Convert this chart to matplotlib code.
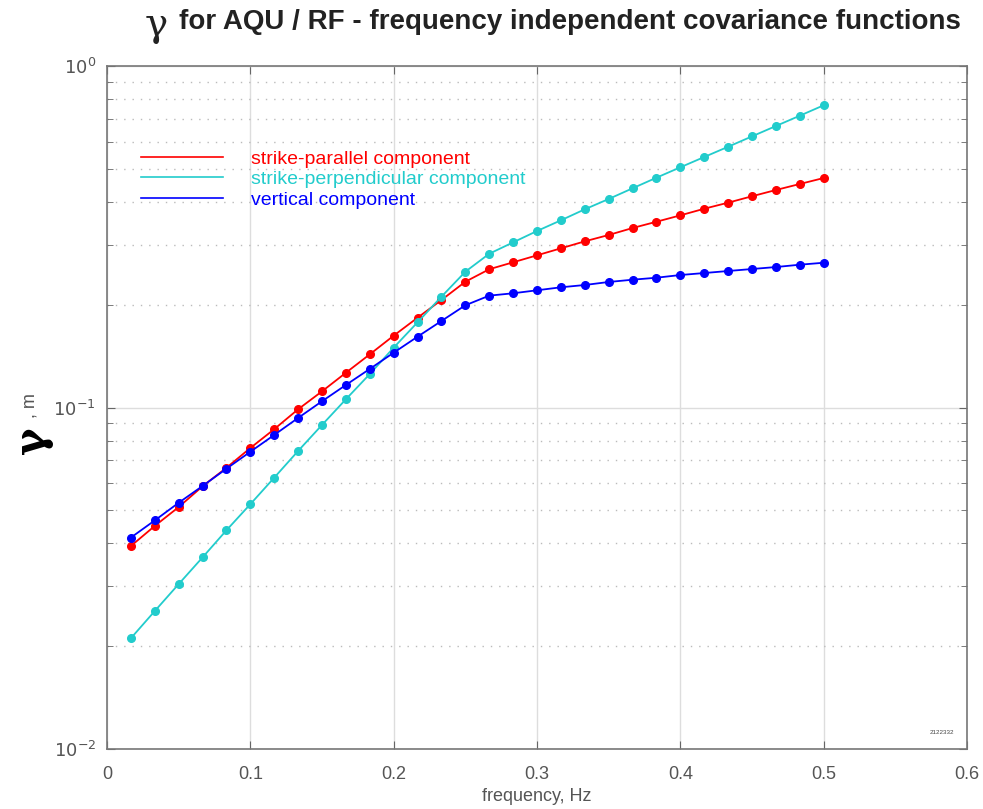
import matplotlib
matplotlib.use("Agg")
import matplotlib.pyplot as plt
import numpy as np
from matplotlib.lines import Line2D
from matplotlib.ticker import LogLocator, NullFormatter, FixedLocator

plt.rcParams['font.family'] = ['Liberation Sans', 'DejaVu Sans']
plt.rcParams['axes.unicode_minus'] = False

freq = [k / 60 for k in range(1, 31)]

strike_parallel = [0.0393, 0.0450, 0.0511, 0.0588, 0.0666, 0.0761, 0.0864, 0.0988, 0.1115, 0.1264,
                   0.1431, 0.1623, 0.1832, 0.2064, 0.2335, 0.2540, 0.2662, 0.2790, 0.2925, 0.3066,
                   0.3200, 0.3354, 0.3499, 0.3653, 0.3820, 0.3979, 0.4155, 0.4334, 0.4513, 0.4699]
strike_perp = [0.0211, 0.02535, 0.0304, 0.0364, 0.0437, 0.0521, 0.0623, 0.0746, 0.0889, 0.1057,
               0.1253, 0.1497, 0.1776, 0.2111, 0.2498, 0.2820, 0.3045, 0.3287, 0.3533, 0.3805,
               0.4079, 0.4384, 0.4709, 0.5051, 0.5414, 0.5801, 0.6222, 0.6672, 0.7152, 0.7673]
vertical = [0.0416, 0.0467, 0.0526, 0.0589, 0.0662, 0.0742, 0.0831, 0.0932, 0.1043, 0.1164,
            0.1297, 0.1447, 0.1612, 0.1792, 0.1992, 0.2126, 0.2160, 0.2204, 0.2249, 0.2284,
            0.2331, 0.2367, 0.2399, 0.2443, 0.2476, 0.2510, 0.2544, 0.2578, 0.2619, 0.2654]

series_labels = ['strike-parallel component', 'strike-perpendicular component', 'vertical component']
series_colors = ['#ff0000', '#22cccc', '#0000ff']
xticks = [0, 0.1, 0.2, 0.3, 0.4, 0.5, 0.6]
xticklabels = ['0', '0.1', '0.2', '0.3', '0.4', '0.5', '0.6']
yticks = [0.01, 0.1, 1.0]
yticklabels = ['$10^{-2}$', '$10^{-1}$', '$10^{0}$']

fig = plt.figure(figsize=(9.83, 8.09), dpi=100)
ax = fig.add_axes([107/983, 1 - 749/809, 860/983, (749 - 66)/809])

gray = '#555555'
for ys, c in zip([strike_parallel, strike_perp, vertical], series_colors):
    ax.plot(freq, ys, '-', color=c, lw=1.3, marker='o', ms=5.5, mec=c, mfc=c, zorder=3)

ax.set_yscale('log')
ax.set_xlim(0, 0.6)
ax.set_ylim(0.01, 1.0)
ax.set_xticks(xticks)
ax.set_xticklabels(xticklabels)
ax.yaxis.set_major_locator(FixedLocator(yticks))
ax.set_yticklabels(yticklabels)
ax.yaxis.set_minor_locator(LogLocator(base=10, subs=np.arange(2, 10)))
ax.yaxis.set_minor_formatter(NullFormatter())

ax.grid(True, which='major', axis='x', color='#dddddd', lw=1.0, ls='-')
ax.grid(True, which='major', axis='y', color='#dddddd', lw=1.0, ls='-')
ax.grid(True, which='minor', axis='y', color='#bbbbbb', lw=1.0, ls=(0, (1, 5)))
ax.set_axisbelow(True)

ax.tick_params(axis='both', which='both', direction='in', top=True, right=True,
               colors='#666666', labelcolor=gray, labelsize=13)
ax.tick_params(axis='both', which='major', length=6)
ax.tick_params(axis='both', which='minor', length=4)
ax.tick_params(axis='x', pad=12)
ax.tick_params(axis='y', pad=8)
for s in ax.spines.values():
    s.set_color('#777777')
    s.set_linewidth(1.2)

ax.set_xlabel('frequency, Hz', fontsize=13, color=gray, labelpad=4)

handles = [Line2D([], [], color=c, lw=1.2) for c in series_colors]
leg = ax.legend(handles, series_labels, loc='upper left', bbox_to_anchor=(0.030, 0.888),
                frameon=False, fontsize=14, handlelength=4.25, handletextpad=1.45,
                labelspacing=0.14, labelcolor=series_colors, borderaxespad=0)

# y label: large gamma + ", m"
fig.text(32/983, 1 - 440/809, 'γ', rotation=90, fontsize=30, fontweight='bold',
         color='black', ha='center', va='center', family=['DejaVu Serif'])
fig.text(30/983, 1 - 406/809, ', m', rotation=90, fontsize=13, color=gray,
         ha='center', va='center')

# title
fig.text(156/983, 1 - 25/809, 'γ', fontsize=28, color='#222222',
         ha='center', va='center', family=['DejaVu Serif'])
fig.text(179/983, 1 - 22/809, 'for AQU / RF - frequency independent covariance functions',
         fontsize=20, fontweight='bold', color='#222222', ha='left', va='center',
         family=['Liberation Sans Narrow', 'Liberation Sans', 'DejaVu Sans'])

ax.text(0.985, 0.02, '2122332', transform=ax.transAxes, fontsize=4.5, color='#444444',
        ha='right', va='bottom')

fig.savefig('out.png', dpi=100, facecolor='white')
